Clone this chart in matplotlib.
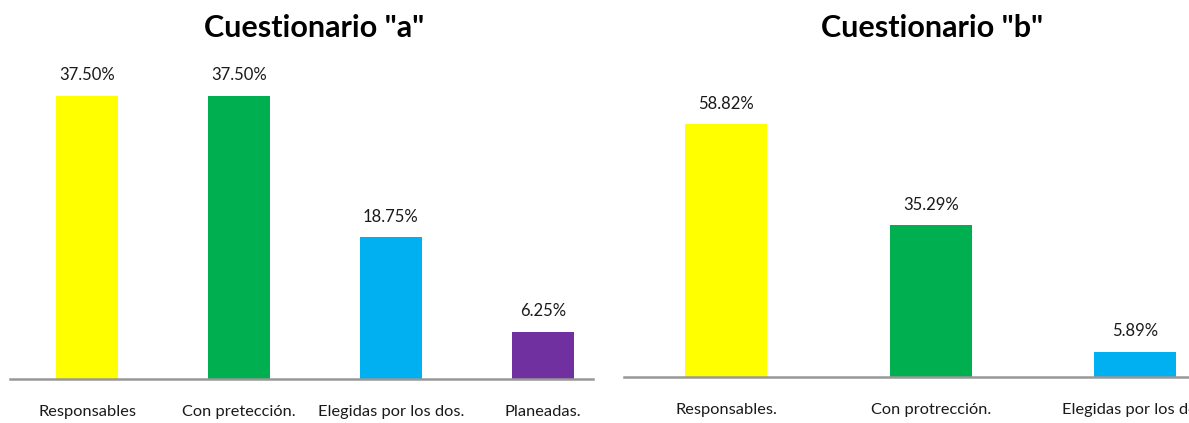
import matplotlib
matplotlib.use("Agg")
import matplotlib.pyplot as plt

# Data
cats_a = ["Responsables", "Con pretección.", "Elegidas por los dos.", "Planeadas."]
vals_a = [37.50, 37.50, 18.75, 6.25]
colors_a = ["#FFFF00", "#00B050", "#00B0F0", "#7030A0"]
title_a = 'Cuestionario "a"'

cats_b = ["Responsables.", "Con protrección.", "Elegidas por los dos."]
vals_b = [58.82, 35.29, 5.89]
colors_b = ["#FFFF00", "#00B050", "#00B0F0"]
title_b = 'Cuestionario "b"'

plt.rcParams['font.family'] = ['Lato', 'DejaVu Sans']

W, H = 1189, 423
fig = plt.figure(figsize=(W / 100, H / 100), dpi=100)

def px_axes(x0, x1, ybase, ytop):
    return fig.add_axes([x0 / W, (H - ybase) / H, (x1 - x0) / W, (ybase - ytop) / H])

def style(ax):
    for s in ["top", "right", "left"]:
        ax.spines[s].set_visible(False)
    ax.spines["bottom"].set_color("#989898")
    ax.spines["bottom"].set_linewidth(1.8)
    ax.set_yticks([])
    ax.tick_params(axis="x", length=0, pad=19, labelsize=11.8, labelcolor="#1a1a1a")

# Left panel: baseline y=379, 7.55 px per %
axA = px_axes(10, 593, 379, 379 - 40 * 7.55)
xa = list(range(len(cats_a)))
axA.bar(xa, vals_a, width=0.41, color=colors_a)
axA.set_xlim(-0.507, 3.33)
axA.set_ylim(0, 40)
axA.set_xticks(xa)
axA.set_xticklabels(cats_a)
for x, v in zip(xa, vals_a):
    axA.annotate(f"{v:.2f}%", (x, v), xytext=(0, 9), textcoords="offset points",
                 ha="center", va="bottom", fontsize=12, color="#1a1a1a")
style(axA)

# Right panel: baseline y=377, 4.3 px per %
axB = px_axes(624, 1350, 377, 377 - 65 * 4.3)
xb = list(range(len(cats_b)))
axB.bar(xb, vals_b, width=0.40, color=colors_b)
axB.set_xlim(-0.5, 3.05)
axB.set_ylim(0, 65)
axB.set_xticks(xb)
axB.set_xticklabels(cats_b)
for x, v in zip(xb, vals_b):
    axB.annotate(f"{v:.2f}%", (x, v), xytext=(0, 9), textcoords="offset points",
                 ha="center", va="bottom", fontsize=12, color="#1a1a1a")
style(axB)

fig.text(314 / W, 1 - 28 / H, title_a, ha="center", va="center",
         fontsize=22, fontweight="bold", color="black")
fig.text(932 / W, 1 - 28 / H, title_b, ha="center", va="center",
         fontsize=22, fontweight="bold", color="black")

fig.savefig("out.png", dpi=100)
